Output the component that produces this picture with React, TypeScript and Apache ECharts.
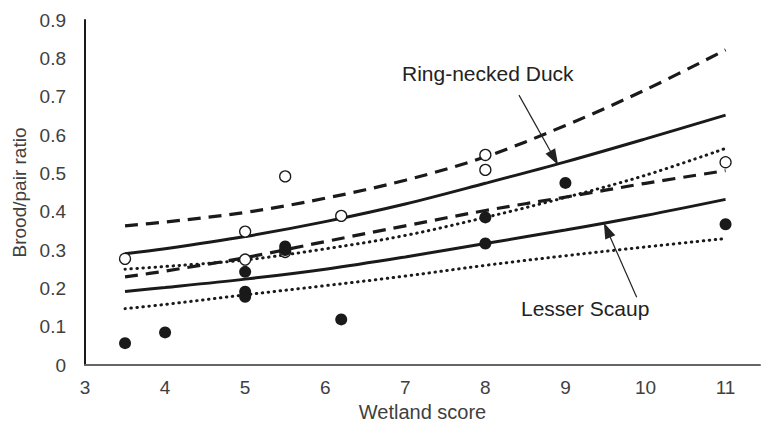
import React, { useEffect, useRef } from "react";
import * as echarts from "echarts";

// Observations
const rndObsX = [3.5, 5, 5, 5.5, 5.5, 6.2, 8, 8, 11];
const rndObsY = [0.277, 0.348, 0.275, 0.492, 0.295, 0.389, 0.548, 0.509, 0.529];
const lescObsX = [3.5, 4, 5, 5, 5, 5.5, 5.5, 6.2, 8, 8, 9, 11];
const lescObsY = [0.057, 0.085, 0.243, 0.191, 0.178, 0.309, 0.3, 0.119, 0.385, 0.317, 0.475, 0.367];

// Fitted curves
const curveX = [3.5, 4, 5, 6, 7, 8, 9, 10, 11];
const rndFit = [0.29, 0.303, 0.335, 0.374, 0.42, 0.474, 0.53, 0.59, 0.652];
const rndUpper = [0.363, 0.373, 0.398, 0.435, 0.482, 0.543, 0.625, 0.718, 0.822];
const rndLower = [0.25, 0.257, 0.274, 0.303, 0.338, 0.385, 0.437, 0.495, 0.565];
const lescFit = [0.192, 0.202, 0.224, 0.25, 0.282, 0.317, 0.352, 0.39, 0.432];
const lescUpper = [0.23, 0.245, 0.28, 0.322, 0.363, 0.403, 0.438, 0.474, 0.507];
const lescLower = [0.147, 0.158, 0.183, 0.207, 0.232, 0.26, 0.285, 0.308, 0.33];

// Annotation arrows (data coordinates: start, tip)
const rndArrow = [[8.42, 0.704], [8.86, 0.54]];
const lescArrow = [[9.89, 0.177], [9.52, 0.352]];
const rndLabel = "Ring-necked Duck";
const lescLabel = "Lesser Scaup";

const xTicks = [3, 4, 5, 6, 7, 8, 9, 10, 11];

const FONT = "'Liberation Sans', Arial, sans-serif";
const TXT = "#404040";

const zip = (xs: number[], ys: number[]) => xs.map((x, i) => [x, ys[i]]);

export default function App() {
  const ref = useRef<HTMLDivElement>(null);
  useEffect(() => {
    if (!ref.current) return;
    const chart = echarts.init(ref.current, undefined, { renderer: "svg" });
    const solid = { color: "#1a1a1a", width: 3, type: "solid" as const };
    const dashed = { color: "#1a1a1a", width: 3.2, type: [13, 8] as any };
    const dotted = { color: "#1a1a1a", width: 3, type: [0.5, 5.5] as any, cap: "round" as const };
    const lineSeries = (name: string, ys: number[], style: any) => ({
      name,
      type: "line",
      data: zip(curveX, ys),
      smooth: 0.35,
      showSymbol: false,
      symbol: "none",
      lineStyle: style,
      z: 2,
      silent: true,
    });
    const arrow = (pts: number[][]) => ({
      silent: true,
      symbol: ["none", "triangle"],
      symbolSize: [11, 16],
      label: { show: false },
      lineStyle: { color: "#222", width: 1.2, type: "solid" },
      itemStyle: { color: "#222" },
      data: [[{ coord: pts[0] }, { coord: pts[1] }]],
    });
    chart.setOption({
      animation: false,
      grid: { left: 85, right: 0, top: 20, bottom: 66 },
      xAxis: {
        type: "value",
        min: 3,
        max: 11.43,
        interval: 1,
        name: "Wetland score",
        nameLocation: "middle",
        nameGap: 29,
        nameTextStyle: { fontFamily: FONT, fontSize: 20, color: TXT },
        axisLine: { show: true, lineStyle: { color: "#666", width: 2 } },
        axisTick: { show: false },
        splitLine: { show: false },
        axisLabel: {
          margin: 13,
          fontFamily: FONT,
          fontSize: 19,
          color: TXT,
          formatter: (v: number) => (xTicks.includes(v) ? String(v) : ""),
        },
      },
      yAxis: {
        type: "value",
        min: 0,
        max: 0.9,
        interval: 0.1,
        name: "Brood/pair ratio",
        nameLocation: "middle",
        nameGap: 55,
        nameTextStyle: { fontFamily: FONT, fontSize: 19, color: TXT },
        axisLine: { show: true, lineStyle: { color: "#1a1a1a", width: 2 } },
        axisTick: { show: false },
        splitLine: { show: false },
        axisLabel: {
          margin: 19,
          fontFamily: FONT,
          fontSize: 19,
          color: TXT,
          formatter: (v: number) => (v === 0 ? "0" : v.toFixed(1)),
        },
      },
      graphic: [
        {
          type: "text",
          left: 402,
          top: 63,
          style: { text: rndLabel, fontFamily: FONT, fontSize: 21, fill: "#222" },
        },
        {
          type: "text",
          left: 521,
          top: 298,
          style: { text: lescLabel, fontFamily: FONT, fontSize: 21, fill: "#222" },
        },
      ],
      series: [
        lineSeries("RND fit", rndFit, solid),
        lineSeries("RND upper", rndUpper, dashed),
        lineSeries("RND lower", rndLower, dotted),
        lineSeries("LESC fit", lescFit, solid),
        lineSeries("LESC upper", lescUpper, dashed),
        lineSeries("LESC lower", lescLower, dotted),
        {
          name: "Ring-necked Duck",
          type: "scatter",
          data: zip(rndObsX, rndObsY),
          symbol: "circle",
          symbolSize: 11,
          itemStyle: { color: "#fff", borderColor: "#1a1a1a", borderWidth: 1.3, opacity: 1 },
          z: 3,
          markLine: arrow(rndArrow),
        },
        {
          name: "Lesser Scaup",
          type: "scatter",
          data: zip(lescObsX, lescObsY),
          symbol: "circle",
          symbolSize: 12,
          itemStyle: { color: "#1a1a1a", opacity: 1 },
          z: 4,
          markLine: arrow(lescArrow),
        },
      ],
    });
    return () => chart.dispose();
  }, []);
  return (
    <div
      ref={ref}
      style={{ position: "fixed", left: 0, top: 0, width: 763, height: 431, background: "#fff" }}
    />
  );
}
